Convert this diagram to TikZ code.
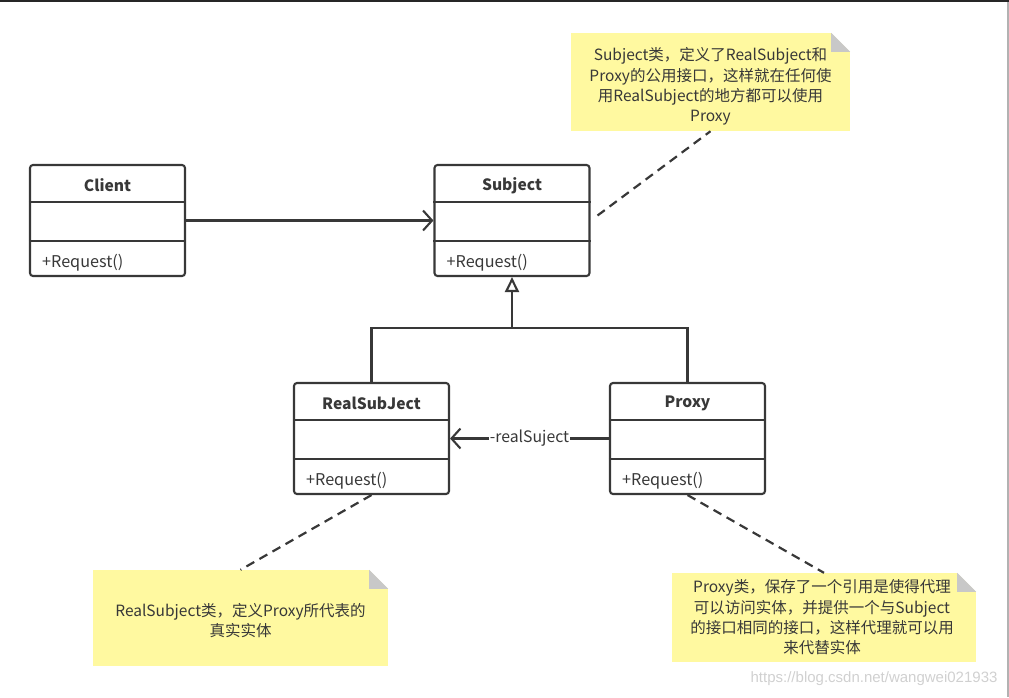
\documentclass[tikz,border=0pt]{standalone}
\usepackage{fontspec}
\setmainfont{Noto Sans CJK SC}
\newfontfamily\markfont{Liberation Sans}
\usetikzlibrary{arrows.meta,positioning}
\definecolor{LineGray}{HTML}{383838}
\definecolor{NoteYellow}{HTML}{FFF9A0}
\definecolor{FoldGray}{HTML}{C8C8C8}
\definecolor{MarkGray}{HTML}{D0D0D0}

\begin{document}
\begin{tikzpicture}[x=1pt,y=-1pt,
    classbox/.style={draw=LineGray,line width=2.1pt,rounded corners=3pt,minimum width=155pt,minimum height=111pt,inner sep=0pt},
    classline/.style={LineGray,line width=2.1pt},
    classname/.style={font=\fontsize{15.6}{17}\selectfont\bfseries,text=LineGray},
    method/.style={font=\fontsize{16.2}{18}\selectfont,text=LineGray,anchor=west,inner sep=0pt},
    notebox/.style={fill=NoteYellow,inner sep=0pt},
    notetext/.style={align=center,inner sep=0pt,font=\fontsize{15.5}{20.3}\selectfont,text=LineGray},
    assoc/.style={LineGray,line width=2.1pt,-{Straight Barb[length=9pt,width=20pt]}},
    inherit/.style={LineGray,line width=2.1pt,-{Triangle[open,length=15pt,width=14pt,fill=white]}},
    noteline/.style={LineGray,line width=2.2pt,dash pattern=on 9pt off 6pt}]
    \useasboundingbox (0,0) rectangle (1009,697);
    % Screenshot frame
    \fill[black!85] (0,0) rectangle (1009,2);
    \fill[gray!60] (1007,2) rectangle (1009,697);
    % Classes
    \foreach \n/\t/\x/\y in {client/Client/107.5/220.5, subject/Subject/512/220.5,
        realsub/RealSubJect/371.5/438.5, proxy/Proxy/687.5/438.5} {
      \node[classbox] (\n) at (\x,\y) {};
      \draw[classline] ([yshift=-38pt]\n.north west) -- ([yshift=-38pt]\n.north east);
      \draw[classline] ([yshift=36pt]\n.south west) -- ([yshift=36pt]\n.south east);
      \node[classname] at ([yshift=-21.5pt]\n.north) {\t};
      \node[method] at ([xshift=13pt,yshift=14.5pt]\n.south west) {+Request()};
    }
    % Notes
    \node[notebox,minimum width=279pt,minimum height=98pt] (note1) at (710.5,82) {};
    \node[notebox,minimum width=295pt,minimum height=96pt] (note2) at (240.5,618) {};
    \node[notebox,minimum width=304pt,minimum height=89pt] (note3) at (824,617.5) {};
    \foreach \n in {note1,note2,note3} {
      \fill[white] (\n.north east) -- ++(-19,0) -- ++(19,19) -- cycle;
      \fill[FoldGray] ([xshift=-19pt]\n.north east) -- ++(0,19) -- ++(19,0) -- cycle;
    }
    \node[notetext] (note1text) at ([yshift=-4.5pt]note1.center)
      {Subject类，定义了RealSubject和\\Proxy的公用接口，这样就在任何使\\用RealSubject的地方都可以使用\\Proxy};
    \node[notetext] (note2text) at ([yshift=-2.5pt]note2.center)
      {RealSubject类，定义Proxy所代表的\\真实实体};
    \node[notetext] (note3text) at ([xshift=-2pt]note3.center)
      {Proxy类，保存了一个引用是使得代理\\可以访问实体，并提供一个与Subject\\的接口相同的接口，这样代理就可以用\\来代替实体};
    % Connectors
    \draw[assoc] (client.east) -- (subject.west);
    \coordinate (bus) at (512,328);
    \draw[classline] (realsub.north) |- (bus) -| (proxy.north);
    \draw[inherit] (bus) -- (subject.south);
    \draw[assoc] (proxy.west) -- (realsub.west -| realsub.east)
      node[midway,fill=white,inner sep=1pt,font=\fontsize{15.8}{17}\selectfont,text=LineGray] {-realSuject};
    \draw[noteline] ([xshift=7pt,yshift=5pt]subject.east) -- (note1.south);
    \draw[noteline] (realsub.south) -- (note2.north);
    \draw[noteline] (proxy.south) -- (note3.north);
    % Watermark
    \node[font=\markfont\fontsize{15}{17}\selectfont,text=MarkGray,anchor=east] (mark) at (1001,679)
      {https://blog.csdn.net/wangwei021933};
\end{tikzpicture}
\end{document}
